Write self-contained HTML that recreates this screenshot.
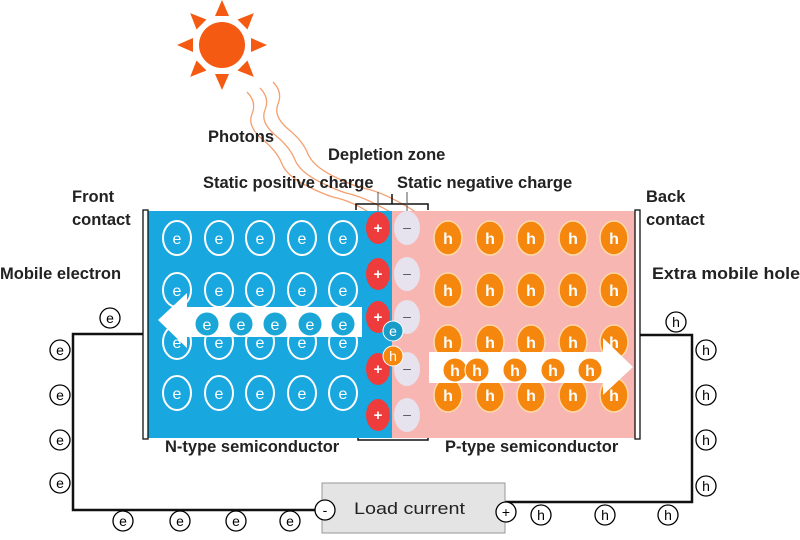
<!DOCTYPE html>
<html><head><meta charset="utf-8"><style>
body{margin:0;background:#fff;}
svg{display:block;font-family:"Liberation Sans",sans-serif;}
</style></head><body>
<svg width="800" height="540" viewBox="0 0 800 540" xmlns="http://www.w3.org/2000/svg">
<defs>
<g id="ed"><ellipse rx="14" ry="17" fill="none" stroke="#fff" stroke-width="2"/><text y="6" text-anchor="middle" font-size="16" fill="#fff">e</text></g>
<g id="hd"><ellipse rx="14" ry="17" fill="#f5870f" stroke="#ffd9a8" stroke-width="1.5"/><text y="6" text-anchor="middle" font-size="16" fill="#fff" font-weight="bold">h</text></g>
<g id="em"><circle r="12" fill="#1aa6d6" stroke="#fff" stroke-width="1"/><text y="6" text-anchor="middle" font-size="16" fill="#fff">e</text></g>
<g id="hm"><circle r="12" fill="#f5870f" stroke="#fff" stroke-width="1"/><text y="6" text-anchor="middle" font-size="16" fill="#fff" font-weight="bold">h</text></g>
<g id="pl"><ellipse rx="12" ry="16" fill="#ee3b3b"/><text y="5" text-anchor="middle" font-size="15" fill="#fff" font-weight="bold">+</text></g>
<g id="mi"><ellipse rx="13" ry="17" fill="#e6e2ee"/><text y="4" text-anchor="middle" font-size="14" fill="#555">–</text></g>
<g id="we"><circle r="10" fill="#fff" stroke="#000" stroke-width="1.3"/><text y="5" text-anchor="middle" font-size="14">e</text></g>
<g id="wh"><circle r="10" fill="#fff" stroke="#000" stroke-width="1.3"/><text y="5" text-anchor="middle" font-size="14">h</text></g>
</defs>
<!-- sun -->
<g transform="translate(222,45)" fill="#f55a12">
<circle r="23"/>
<g id="ray"><polygon points="-7,-29 7,-29 0,-45"/></g>
<use href="#ray" transform="rotate(45)"/><use href="#ray" transform="rotate(90)"/><use href="#ray" transform="rotate(135)"/>
<use href="#ray" transform="rotate(180)"/><use href="#ray" transform="rotate(225)"/><use href="#ray" transform="rotate(270)"/><use href="#ray" transform="rotate(315)"/>
</g>
<!-- photons -->
<g fill="none" stroke="#f5a070" stroke-width="1.3">
<path d="M247,92 q10,10 5,22 q-5,12 10,25 q15,12 20,25 q5,12 25,22 q20,10 30,12 q20,5 40,20"/>
<path d="M260,88 q10,10 5,22 q-5,12 10,25 q15,12 20,25 q5,12 25,22 q20,10 30,12 q20,5 52,25"/>
<path d="M273,82 q10,10 5,22 q-5,12 10,25 q15,12 20,25 q5,12 25,22 q20,10 30,12 q25,5 62,30"/>
</g>
<!-- labels -->
<g font-size="16.5" fill="#222" font-weight="bold">
<text x="208" y="142">Photons</text>
<text x="328" y="160">Depletion zone</text>
<text x="203" y="188">Static positive charge</text>
<text x="397" y="188">Static negative charge</text>
<text x="72" y="202">Front</text><text x="72" y="225">contact</text>
<text x="0" y="279">Mobile electron</text>
<text x="646" y="202">Back</text><text x="646" y="225">contact</text>
<text x="652" y="279" textLength="148" lengthAdjust="spacingAndGlyphs">Extra mobile hole</text>
<text x="165" y="452">N-type semiconductor</text>
<text x="445" y="452">P-type semiconductor</text>
</g>
<!-- brackets -->
<g stroke="#111" stroke-width="1.5" fill="none">
<path d="M356,210 v-6 h72 v6"/><path d="M392,204 v-10"/>
<path d="M358,434 v6 h70 v-6"/>
<path d="M378,192 v22 M407,192 v22" stroke="#555" stroke-width="1"/>
</g>
<!-- regions -->
<rect x="148" y="211" width="244" height="227" fill="#18a7df"/>
<rect x="392" y="211" width="244" height="227" fill="#f8b6b2"/>
<rect x="143" y="210" width="5" height="229" fill="#fff" stroke="#111" stroke-width="1.3"/>
<rect x="635" y="210" width="5" height="229" fill="#fff" stroke="#111" stroke-width="1.3"/>
<!-- electrons grid -->
<g>
<use href="#ed" x="177" y="238"/><use href="#ed" x="219" y="238"/><use href="#ed" x="260" y="238"/><use href="#ed" x="302" y="238"/><use href="#ed" x="343" y="238"/>
<use href="#ed" x="177" y="290"/><use href="#ed" x="219" y="290"/><use href="#ed" x="260" y="290"/><use href="#ed" x="302" y="290"/><use href="#ed" x="343" y="290"/>
<use href="#ed" x="177" y="342"/><use href="#ed" x="219" y="342"/><use href="#ed" x="260" y="342"/><use href="#ed" x="302" y="342"/><use href="#ed" x="343" y="342"/>
<use href="#ed" x="177" y="393"/><use href="#ed" x="219" y="393"/><use href="#ed" x="260" y="393"/><use href="#ed" x="302" y="393"/><use href="#ed" x="343" y="393"/>
</g>
<g>
<use href="#hd" x="448" y="238"/><use href="#hd" x="490" y="238"/><use href="#hd" x="531" y="238"/><use href="#hd" x="573" y="238"/><use href="#hd" x="614" y="238"/>
<use href="#hd" x="448" y="290"/><use href="#hd" x="490" y="290"/><use href="#hd" x="531" y="290"/><use href="#hd" x="573" y="290"/><use href="#hd" x="614" y="290"/>
<use href="#hd" x="448" y="342"/><use href="#hd" x="490" y="342"/><use href="#hd" x="531" y="342"/><use href="#hd" x="573" y="342"/><use href="#hd" x="614" y="342"/>
<use href="#hd" x="448" y="395"/><use href="#hd" x="490" y="395"/><use href="#hd" x="531" y="395"/><use href="#hd" x="573" y="395"/><use href="#hd" x="614" y="395"/>
</g>
<!-- arrows -->
<polygon points="158,320 187,293 187,307 362,307 362,337 187,337 187,348" fill="#fff"/>
<use href="#em" x="207" y="324"/><use href="#em" x="241" y="324"/><use href="#em" x="275" y="324"/><use href="#em" x="310" y="324"/><use href="#em" x="343" y="324"/>
<polygon points="429,352 603,352 603,338 633,367 603,395 603,383 429,383" fill="#fff"/>
<use href="#hm" x="455" y="370"/><use href="#hm" x="477" y="370"/><use href="#hm" x="515" y="370"/><use href="#hm" x="553" y="370"/><use href="#hm" x="590" y="370"/>
<!-- depletion charges -->
<use href="#pl" x="378" y="228"/><use href="#pl" x="378" y="274"/><use href="#pl" x="378" y="317"/><use href="#pl" x="378" y="369"/><use href="#pl" x="378" y="415"/>
<use href="#mi" x="407" y="228"/><use href="#mi" x="407" y="274"/><use href="#mi" x="407" y="317"/><use href="#mi" x="407" y="369"/><use href="#mi" x="407" y="415"/>
<g><circle cx="393" cy="331" r="10" fill="#1a9cc8" stroke="#fff"/><text x="393" y="336" text-anchor="middle" font-size="14" fill="#fff">e</text></g>
<g><circle cx="393" cy="356" r="10" fill="#f5870f" stroke="#fff"/><text x="393" y="361" text-anchor="middle" font-size="14" fill="#fff">h</text></g>
<!-- wires -->
<g stroke="#111" stroke-width="2.5" fill="none">
<path d="M143,334 H73 V510 H322"/>
<path d="M640,335 H692 V502 H505"/>
</g>
<rect x="322" y="483" width="183" height="50" fill="#e4e4e4" stroke="#999"/>
<text x="354" y="514" font-size="17" fill="#222" textLength="111" lengthAdjust="spacingAndGlyphs">Load current</text>
<g><circle cx="325" cy="510" r="10" fill="#fff" stroke="#000" stroke-width="1.3"/><text x="325" y="515" text-anchor="middle" font-size="14">-</text></g>
<g><circle cx="506" cy="512" r="10" fill="#fff" stroke="#000" stroke-width="1.3"/><text x="506" y="517" text-anchor="middle" font-size="14">+</text></g>
<use href="#we" x="110" y="318"/>
<use href="#we" x="60" y="350"/><use href="#we" x="60" y="395"/><use href="#we" x="60" y="440"/><use href="#we" x="60" y="483"/>
<use href="#we" x="123" y="521"/><use href="#we" x="180" y="521"/><use href="#we" x="236" y="521"/><use href="#we" x="290" y="521"/>
<use href="#wh" x="676" y="322"/>
<use href="#wh" x="706" y="350"/><use href="#wh" x="706" y="395"/><use href="#wh" x="706" y="440"/><use href="#wh" x="706" y="486"/>
<use href="#wh" x="541" y="515"/><use href="#wh" x="605" y="515"/><use href="#wh" x="668" y="515"/>
</svg>
</body></html>
